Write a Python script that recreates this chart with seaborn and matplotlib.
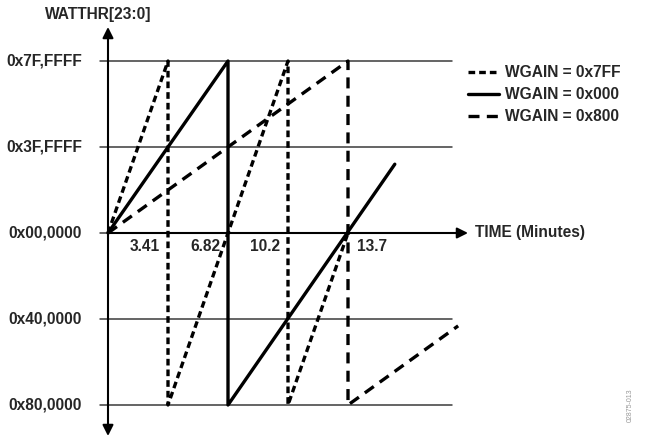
import pandas as pd
import matplotlib
matplotlib.use("Agg")
import matplotlib.pyplot as plt
import seaborn as sns

# energy register levels (in units of 0x40,0000) and their labels
level_values = [2, 1, 0, -1, -2]
level_labels = ["0x7F,FFFF", "0x3F,FFFF", "0x00,0000", "0x40,0000", "0x80,0000"]

# time ticks (minutes)
tick_times = [3.41, 6.82, 10.23, 13.64]
tick_labels = ["3.41", "6.82", "10.2", "13.7"]

# register value vs time for each gain setting
time_7ff = [0, 3.41, 3.41, 10.23, 10.23, 13.64]
value_7ff = [0, 2, -2, 2, -2, 0]
time_000 = [0, 6.82, 6.82, 16.3]
value_000 = [0, 2, -2, 0.8]
time_800 = [0, 13.64, 13.64, 19.9]
value_800 = [0, 2, -2, -1.08]

series_names = ["WGAIN = 0x7FF", "WGAIN = 0x000", "WGAIN = 0x800"]

sns.set_theme(style="white")
plt.rcParams["font.family"] = ["Liberation Sans", "DejaVu Sans"]
plt.rcParams["font.weight"] = "bold"

fig = plt.figure(figsize=(6.45, 4.37), dpi=100)
ax = fig.add_axes([0, 0, 1, 1])
px = 60 / 3.41  # pixels per minute
ax.set_xlim(-108 / px, (645 - 108) / px)
ax.set_ylim(-(437 - 233) / 86, 233 / 86)
ax.axis("off")

# horizontal level lines
for v in level_values:
    ax.plot([-8 / px, 344 / px], [v, v], color="#3a3a3a", lw=1.1, zorder=1)

lw = 2.4
df = pd.DataFrame({"t": time_7ff, "v": value_7ff})
sns.lineplot(data=df, x="t", y="v", sort=False, estimator=None, color="black",
             lw=lw, ax=ax, linestyle=(0, (2.0, 1.2)), label=series_names[0])
df = pd.DataFrame({"t": time_000, "v": value_000})
sns.lineplot(data=df, x="t", y="v", sort=False, estimator=None, color="black",
             lw=lw, ax=ax, label=series_names[1])
df = pd.DataFrame({"t": time_800, "v": value_800})
sns.lineplot(data=df, x="t", y="v", sort=False, estimator=None, color="black",
             lw=lw, ax=ax, linestyle=(0, (3.3, 2.2)), label=series_names[2])

# axes with arrows
ax.annotate("", xy=(0, (233 - 27) / 86), xytext=(0, -(436 - 233) / 86),
            arrowprops=dict(arrowstyle="<|-|>", color="black", lw=1.5,
                            mutation_scale=16, shrinkA=0, shrinkB=0))
ax.annotate("", xy=((468 - 108) / px, 0), xytext=(0, 0),
            arrowprops=dict(arrowstyle="-|>", color="black", lw=1.5,
                            mutation_scale=16, shrinkA=0, shrinkB=0))

fs = 11.2
for v, lab in zip(level_values, level_labels):
    ax.text(-26 / px, v, lab, ha="right", va="center", fontsize=fs, fontweight="bold")
for i, (t, lab) in enumerate(zip(tick_times, tick_labels)):
    if i < 3:
        ax.text(t - 8 / px, -14 / 86, lab, ha="right", va="center", fontsize=fs, fontweight="bold")
    else:
        ax.text(t + 9 / px, -14 / 86, lab, ha="left", va="center", fontsize=fs, fontweight="bold")

ax.text((475 - 108) / px, 0, "TIME (Minutes)", ha="left", va="center", fontsize=fs, fontweight="bold")
ax.text((45 - 108) / px, (233 - 15) / 86, "WATTHR[23:0]", ha="left", va="center",
        fontsize=fs, fontweight="bold")
fig.text(630 / 645, 1 - 405 / 437, "02875-013", rotation=90, ha="center", va="center",
         fontsize=5, color="#999999", fontweight="normal")

leg = ax.legend(loc="upper left", bbox_to_anchor=(468 / 645, 1 - 65 / 437),
                bbox_transform=fig.transFigure, frameon=False, fontsize=fs,
                handlelength=2.0, handletextpad=0.4, labelspacing=0.45,
                borderpad=0, borderaxespad=0)
for txt in leg.get_texts():
    txt.set_fontweight("bold")

fig.savefig("out.png", dpi=100)
